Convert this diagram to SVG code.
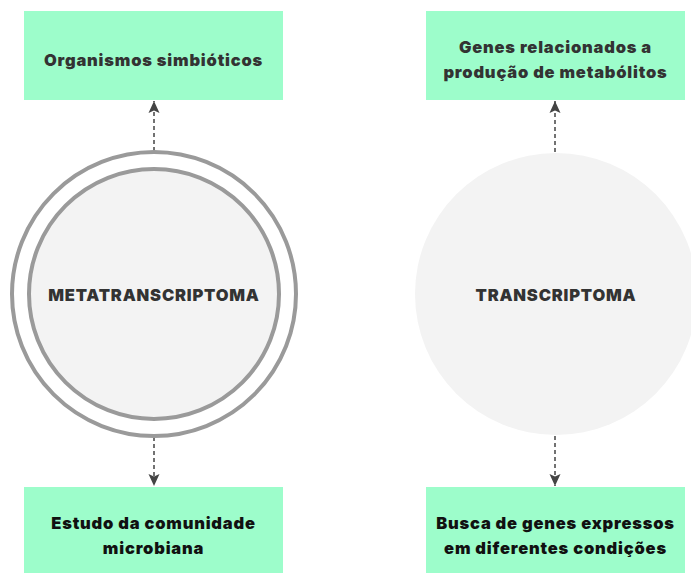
<svg xmlns="http://www.w3.org/2000/svg" width="691" height="573" viewBox="0 0 691 573">
<style>
.box{fill:#9dfdcb}
.t{font-family:Inter,"Liberation Sans",sans-serif;font-weight:900;font-size:16.5px;letter-spacing:0.8px;text-anchor:middle}
.dark{fill:#333}
.blk{fill:#111}
.conn{stroke:#444;stroke-width:1.5;stroke-dasharray:4 3;fill:none}
</style>
<defs>
<marker id="ah" viewBox="0 0 12 12" refX="12" refY="6" markerWidth="12" markerHeight="12" markerUnits="userSpaceOnUse" orient="auto">
<path d="M0,0.5 L12,6 L0,11.5 L2.5,6 z" fill="#444"/>
</marker>
</defs>
<rect width="691" height="573" fill="#fff"/>
<g id="connectors">
<line class="conn" x1="154" y1="151" x2="154" y2="101" marker-end="url(#ah)"/>
<line class="conn" x1="154" y1="437" x2="154" y2="486" marker-end="url(#ah)"/>
<line class="conn" x1="555" y1="152" x2="555" y2="101" marker-end="url(#ah)"/>
<line class="conn" x1="555" y1="436" x2="555" y2="486" marker-end="url(#ah)"/>
</g>
<g id="n-org">
<rect class="box" x="24" y="11" width="259" height="89"/>
<text class="t dark" x="153.5" y="66">Organismos simbióticos</text>
</g>
<g id="n-genes">
<rect class="box" x="426" y="11" width="259" height="89"/>
<text class="t dark" x="555.5" y="53">Genes relacionados a</text>
<text class="t dark" x="555.5" y="78">produção de metabólitos</text>
</g>
<g id="n-meta">
<circle cx="154" cy="294" r="142" fill="#fff" stroke="#9a9a9a" stroke-width="4"/>
<circle cx="154" cy="294" r="125" fill="#f3f3f3" stroke="#9a9a9a" stroke-width="4"/>
<text class="t dark" x="154" y="300.5">METATRANSCRIPTOMA</text>
</g>
<g id="n-trans">
<circle cx="556" cy="294" r="141" fill="#f3f3f3"/>
<text class="t dark" x="556" y="300.5">TRANSCRIPTOMA</text>
</g>
<g id="n-estudo">
<rect class="box" x="24" y="487" width="259" height="86"/>
<text class="t blk" x="153.5" y="529">Estudo da comunidade</text>
<text class="t blk" x="153.5" y="554">microbiana</text>
</g>
<g id="n-busca">
<rect class="box" x="426" y="487" width="259" height="86"/>
<text class="t blk" x="555.5" y="529">Busca de genes expressos</text>
<text class="t blk" x="555.5" y="554">em diferentes condições</text>
</g>
</svg>
